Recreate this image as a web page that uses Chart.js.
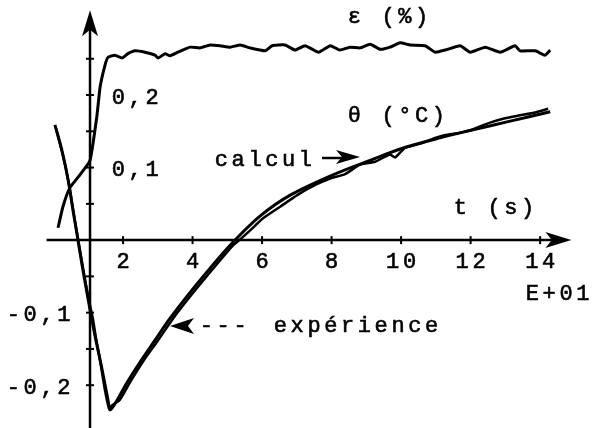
<!DOCTYPE html>
<html>
<head>
<meta charset="utf-8">
<script src="https://cdn.jsdelivr.net/npm/chart.js@4/dist/chart.umd.min.js"></script>
<style>
  html, body { margin: 0; padding: 0; background: #fff; }
  #wrap { width: 594px; height: 428px; }
</style>
</head>
<body>
<div id="wrap"><canvas id="chart"></canvas></div>
<script>
// === Data (t in E+01 s) ======================================================
const epsT = [0.13, 0.27, 0.47, 0.76, 1.05, 1.25, 1.34, 1.48, 1.57, 1.77, 1.97, 2.14, 2.35, 2.63,
  2.92, 3.01, 3.21, 3.35, 3.58, 3.93, 4.22, 4.50, 4.79, 5.08, 5.37, 5.65, 6.09, 6.29, 6.66, 6.95,
  7.24, 7.63, 7.96, 8.24, 8.53, 8.82, 9.11, 9.40, 9.68, 9.97, 10.26, 10.69, 10.98, 11.27, 11.70,
  11.99, 12.42, 12.85, 13.28, 13.42, 13.86, 14.14, 14.29];
const epsV = [0.017, 0.046, 0.072, 0.090, 0.110, 0.172, 0.211, 0.241, 0.252, 0.255, 0.251, 0.257,
  0.261, 0.259, 0.255, 0.251, 0.257, 0.254, 0.259, 0.266, 0.265, 0.269, 0.268, 0.266, 0.269, 0.265,
  0.261, 0.268, 0.269, 0.262, 0.268, 0.259, 0.268, 0.262, 0.266, 0.265, 0.270, 0.263, 0.266, 0.272,
  0.269, 0.268, 0.259, 0.262, 0.268, 0.259, 0.266, 0.259, 0.268, 0.261, 0.261, 0.255, 0.262];

const calcT = [0.04, 0.24, 0.42, 0.56, 0.68, 0.82, 0.99, 1.19, 1.40, 1.57, 1.63, 1.86, 2.12, 2.49,
  2.92, 3.35, 3.93, 4.50, 5.08, 5.94, 6.81, 8.04, 9.11, 10.06, 11.12, 12.07, 13.14, 14.29];
const calcV = [0.159, 0.124, 0.083, 0.041, 0.007, -0.034, -0.080, -0.131, -0.179, -0.221, -0.234,
  -0.218, -0.196, -0.168, -0.138, -0.108, -0.072, -0.039, -0.007, 0.033, 0.062, 0.090, 0.110,
  0.127, 0.141, 0.152, 0.164, 0.177];

const expT = [0.07, 0.27, 0.45, 0.59, 0.71, 0.85, 1.02, 1.14, 1.22, 1.34, 1.48, 1.60, 1.68, 1.91,
  2.20, 2.58, 3.01, 3.44, 4.01, 4.65, 5.17, 5.37, 5.65, 6.03, 6.52, 7.01, 7.53, 7.96, 8.39, 8.82,
  9.25, 9.68, 9.83, 10.11, 10.55, 10.98, 11.27, 11.70, 12.13, 12.56, 12.99, 13.42, 13.86, 14.23];
const expV = [0.154, 0.117, 0.076, 0.034, 0.000, -0.039, -0.083, -0.110, -0.135, -0.166, -0.207,
  -0.232, -0.228, -0.220, -0.196, -0.167, -0.138, -0.108, -0.073, -0.036, -0.007, 0.001, 0.013,
  0.030, 0.046, 0.062, 0.076, 0.085, 0.091, 0.104, 0.108, 0.118, 0.114, 0.127, 0.133, 0.141,
  0.145, 0.148, 0.154, 0.162, 0.168, 0.172, 0.176, 0.181];

// === Axes ====================================================================
const xTicks = [2, 4, 6, 8, 10, 12, 14];
const xTickLabels = ["2", "4", "6", "8", "10", "12", "14"];
const yTicks = [-0.2, -0.15, -0.1, -0.05, 0.05, 0.1, 0.15, 0.2, 0.25];
const yLabelValues = [0.2, 0.1, -0.1, -0.2];
const yLabelTexts = ["0,2", "0,1", "-0,1", "-0,2"];
const axisCrossT = 1.05;   // y axis drawn at this t
const xAxisFrom = -0.2, xAxisTo = 14.9;
const yAxisFrom = -0.26, yAxisTo = 0.317;

const FONT = "22px 'Liberation Mono', 'DejaVu Sans Mono', monospace";
const ADV = 16.8;

function toXY(ts, vs) {
  return ts.map((t, i) => ({ x: t, y: vs[i] }));
}

// draw text one glyph at a time, typewriter spacing
function typeText(ctx, str, left, midY) {
  ctx.save();
  ctx.font = FONT;
  ctx.fillStyle = "#000";
  ctx.strokeStyle = "#000";
  ctx.lineWidth = 0.6;
  ctx.textAlign = "center";
  ctx.textBaseline = "middle";
  [...str].forEach((ch, i) => {
    const cx = left + ADV * i + ADV / 2;
    ctx.fillText(ch, cx, midY);
    ctx.strokeText(ch, cx, midY);
  });
  ctx.restore();
}

function arrowHead(ctx, tipX, tipY, dir, len, half) {
  ctx.beginPath();
  if (dir === "right") {
    ctx.moveTo(tipX, tipY);
    ctx.lineTo(tipX - len, tipY - half);
    ctx.lineTo(tipX - len * 0.75, tipY);
    ctx.lineTo(tipX - len, tipY + half);
  } else if (dir === "left") {
    ctx.moveTo(tipX, tipY);
    ctx.lineTo(tipX + len, tipY - half);
    ctx.lineTo(tipX + len * 0.75, tipY);
    ctx.lineTo(tipX + len, tipY + half);
  } else {
    ctx.moveTo(tipX, tipY);
    ctx.lineTo(tipX - half, tipY + len);
    ctx.lineTo(tipX, tipY + len * 0.75);
    ctx.lineTo(tipX + half, tipY + len);
  }
  ctx.closePath();
  ctx.fill();
}

const axesPlugin = {
  id: "axesPlugin",
  beforeDatasetsDraw(chart) {
    const ctx = chart.ctx;
    const xs = chart.scales.x, ys = chart.scales.y;
    const x0 = xs.getPixelForValue(axisCrossT);
    const y0 = ys.getPixelForValue(0);
    ctx.save();
    ctx.strokeStyle = "#000";
    ctx.fillStyle = "#000";
    ctx.lineWidth = 2.5;
    // horizontal axis
    const xEnd = xs.getPixelForValue(xAxisTo);
    ctx.beginPath();
    ctx.moveTo(xs.getPixelForValue(xAxisFrom), y0);
    ctx.lineTo(xEnd - 10, y0);
    ctx.stroke();
    arrowHead(ctx, xEnd, y0, "right", 26, 8);
    // vertical axis
    const yTop = ys.getPixelForValue(yAxisTo);
    ctx.beginPath();
    ctx.moveTo(x0, ys.getPixelForValue(yAxisFrom));
    ctx.lineTo(x0, yTop + 10);
    ctx.stroke();
    arrowHead(ctx, x0, yTop, "up", 26, 8);
    // tick marks
    ctx.lineWidth = 2;
    xTicks.forEach(t => {
      const px = xs.getPixelForValue(t);
      ctx.beginPath();
      ctx.moveTo(px, y0 - 4);
      ctx.lineTo(px, y0 + 4);
      ctx.stroke();
    });
    yTicks.forEach(v => {
      const py = ys.getPixelForValue(v);
      ctx.beginPath();
      ctx.moveTo(x0 - 4, py);
      ctx.lineTo(x0 + 4, py);
      ctx.stroke();
    });
    ctx.restore();

    // tick labels
    xTicks.forEach((t, i) => {
      const s = xTickLabels[i];
      const px = xs.getPixelForValue(t);
      typeText(ctx, s, px - (s.length * ADV) / 2, y0 + 22);
    });
    yLabelValues.forEach((v, i) => {
      const s = yLabelTexts[i];
      const py = ys.getPixelForValue(v);
      const left = v > 0 ? x0 + 20 : x0 - 85;
      typeText(ctx, s, left, py + 3);
    });
  },
  afterDraw(chart) {
    const ctx = chart.ctx;
    typeText(ctx, "\u03b5 (%)", 346, 17);
    typeText(ctx, "\u03b8 (\u00b0C)", 346, 116);
    typeText(ctx, "t (s)", 452, 208);
    typeText(ctx, "E+01", 524, 294);
    typeText(ctx, "calcul", 213, 160);
    typeText(ctx, "---", 198, 326);
    typeText(ctx, "exp\u00e9rience", 272, 326);
    ctx.save();
    ctx.fillStyle = "#000";
    ctx.strokeStyle = "#000";
    ctx.lineWidth = 2.5;
    // calcul arrow
    ctx.beginPath();
    ctx.moveTo(322, 158);
    ctx.lineTo(345, 158);
    ctx.stroke();
    arrowHead(ctx, 360, 157, "right", 24, 7);
    // experience arrow head
    arrowHead(ctx, 170, 326, "left", 24, 8);
    ctx.restore();
  }
};

// === Chart ===================================================================
new Chart(document.getElementById("chart"), {
  type: "line",
  data: {
    datasets: [
      { label: "\u03b5 (%)", data: toXY(epsT, epsV), borderColor: "#000", borderWidth: 3,
        tension: 0.15, pointRadius: 0 },
      { label: "calcul", data: toXY(calcT, calcV), borderColor: "#000", borderWidth: 3,
        tension: 0.3, pointRadius: 0 },
      { label: "exp\u00e9rience", data: toXY(expT, expV), borderColor: "#000", borderWidth: 2.5,
        tension: 0.2, pointRadius: 0 },
    ],
  },
  options: {
    responsive: true,
    maintainAspectRatio: false,
    animation: false,
    layout: { padding: 0 },
    scales: {
      x: { type: "linear", display: false, min: -1.54, max: 15.55 },
      y: { type: "linear", display: false, min: -0.259, max: 0.331 },
    },
    plugins: { legend: { display: false }, tooltip: { enabled: false } },
  },
  plugins: [axesPlugin],
});
</script>
</body>
</html>
